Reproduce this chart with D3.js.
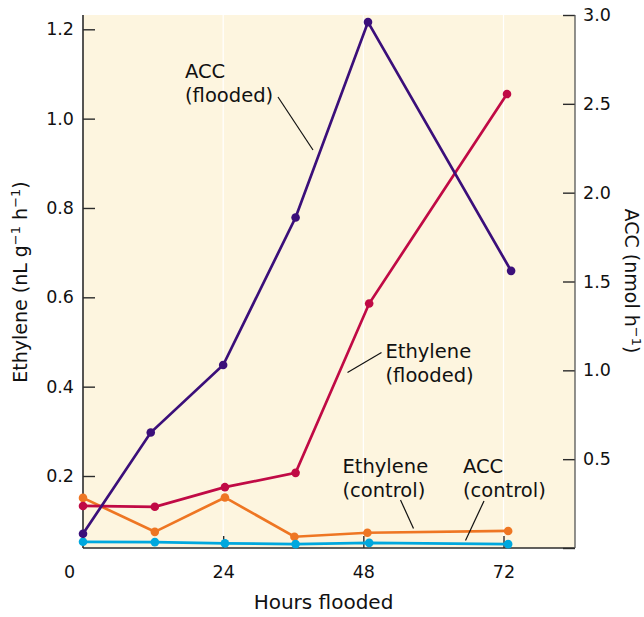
<!DOCTYPE html>
<html lang="en">
<head>
    <meta charset="UTF-8">
    <title>Ethylene and ACC in flooded plants</title>
    <script src="https://d3js.org/d3.v7.min.js"></script>
    <style>
        body {
            margin: 0;
            background: #fff;
            font-family: "DejaVu Sans", sans-serif;
        }
        .tick text {
            font-size: 17.5px;
            fill: #111;
        }
        .note {
            font-size: 19.5px;
            fill: #111;
        }
    </style>
</head>
<body>
    <div id="chart"></div>
    <script>
        // values (hours differ a little per series, as plotted)
        const accFloodHours = [0, 11.6, 24, 36.4, 48.8, 73.3];
        const accFlood = [0.08, 0.65, 1.03, 1.86, 2.96, 1.56];
        const ethFloodHours = [0, 12.3, 24.3, 36.4, 49, 72.6];
        const ethFlood = [0.133, 0.131, 0.175, 0.207, 0.586, 1.055];
        const ethCtrlHours = [0, 12.3, 24.3, 36.2, 48.7, 72.8];
        const ethCtrl = [0.151, 0.075, 0.152, 0.064, 0.073, 0.077];
        const accCtrlHours = [0, 12.3, 24.3, 36.4, 49, 72.8];
        const accCtrl = [0.035, 0.033, 0.026, 0.022, 0.029, 0.022];

        const hourTicks = [0, 24, 48, 72];
        const ethTicks = [0.2, 0.4, 0.6, 0.8, 1.0, 1.2];
        const accTicks = [0, 0.5, 1.0, 1.5, 2.0, 2.5, 3.0];

        const width = 644, height = 617;
        const plotLeft = 83, plotRight = 575, plotTop = 15, plotBottom = 548;

        const svg = d3.select("#chart").append("svg")
            .attr("width", width)
            .attr("height", height);

        const x = d3.scaleLinear().domain([0, 72]).range([83, 503.5]);
        const yEth = d3.scaleLinear().domain([0.2, 1.2]).range([476, 29.3]);
        const yAcc = d3.scaleLinear().domain([0, 3.0]).range([plotBottom, plotTop]);

        // plot background
        svg.append("rect")
            .attr("x", plotLeft).attr("y", plotTop)
            .attr("width", plotRight - plotLeft).attr("height", plotBottom - plotTop)
            .attr("fill", "#fdf5df");

        // white gridlines at the hour ticks
        svg.append("g")
            .selectAll("line")
            .data(hourTicks.slice(1))
            .enter().append("line")
            .attr("x1", d => x(d)).attr("x2", d => x(d))
            .attr("y1", plotTop).attr("y2", plotBottom)
            .attr("stroke", "#fff")
            .attr("stroke-width", 1.2);

        // axes
        const xAxis = svg.append("g")
            .attr("transform", `translate(0,${plotBottom})`)
            .call(d3.axisBottom(x).tickValues(hourTicks).tickSize(-12).tickPadding(17.5));
        xAxis.selectAll(".tick").filter(d => d === 0).select("text").attr("x", -14);
        xAxis.selectAll(".tick").filter(d => d === 0).select("line").remove();

        svg.append("g")
            .attr("transform", `translate(${plotLeft},0)`)
            .call(d3.axisLeft(yEth).tickValues(ethTicks).tickSize(-12).tickPadding(9)
                .tickFormat(d3.format(".1f")));

        svg.append("g")
            .attr("transform", `translate(${plotRight},0)`)
            .call(d3.axisRight(yAcc).tickValues(accTicks).tickSize(-12).tickPadding(8)
                .tickFormat(d => d === 0 ? "" : d3.format(".1f")(d)));

        svg.selectAll(".domain").remove();
        svg.selectAll(".tick line").attr("stroke", "#2b2b2b").attr("stroke-width", 1.4);
        svg.selectAll("g").filter(function () { return this.getAttribute("font-family"); })
            .attr("font-family", null).attr("font-size", null);

        // axis lines
        const frame = svg.append("g").attr("stroke", "#2b2b2b").attr("stroke-width", 1.6);
        frame.append("line").attr("x1", plotLeft).attr("x2", plotLeft).attr("y1", plotTop).attr("y2", plotBottom);
        frame.append("line").attr("x1", plotLeft).attr("x2", plotRight).attr("y1", plotBottom).attr("y2", plotBottom);
        frame.append("line").attr("x1", plotRight).attr("x2", plotRight).attr("y1", plotTop).attr("y2", plotBottom)
            .attr("stroke", "#555").attr("stroke-width", 1.3);

        // series
        const series = [
            { hours: ethCtrlHours, vals: ethCtrl, y: yEth, color: "#ee7623" },
            { hours: accCtrlHours, vals: accCtrl, y: yAcc, color: "#00a8de" },
            { hours: ethFloodHours, vals: ethFlood, y: yEth, color: "#c00a45" },
            { hours: accFloodHours, vals: accFlood, y: yAcc, color: "#3b0f7a" }
        ];

        series.forEach(s => {
            const pts = s.hours.map((h, i) => [x(h), s.y(s.vals[i])]);
            svg.append("path")
                .attr("d", d3.line()(pts))
                .attr("fill", "none")
                .attr("stroke", s.color)
                .attr("stroke-width", 2.7);
            svg.append("g")
                .selectAll("circle")
                .data(pts)
                .enter().append("circle")
                .attr("cx", d => d[0])
                .attr("cy", d => d[1])
                .attr("r", 4.3)
                .attr("fill", s.color);
        });

        // annotations
        const notes = [
            { lines: ["ACC", "(flooded)"], x: 185, y: 77.7, lead: [278, 97, 313, 150] },
            { lines: ["Ethylene", "(flooded)"], x: 385.5, y: 358.3, lead: [381.5, 352.5, 347.5, 372.5] },
            { lines: ["Ethylene", "(control)"], x: 342.5, y: 473.3, lead: [400.5, 500, 413.5, 528.5] },
            { lines: ["ACC", "(control)"], x: 463, y: 473.3, lead: [484, 501, 465.5, 540.5] }
        ];

        notes.forEach(n => {
            const t = svg.append("text").attr("class", "note").attr("x", n.x).attr("y", n.y);
            n.lines.forEach((l, i) => {
                t.append("tspan").attr("x", n.x).attr("dy", i === 0 ? 0 : 24).text(l);
            });
            svg.append("line")
                .attr("x1", n.lead[0]).attr("y1", n.lead[1])
                .attr("x2", n.lead[2]).attr("y2", n.lead[3])
                .attr("stroke", "#111")
                .attr("stroke-width", 1.2);
        });

        // axis titles
        svg.append("text")
            .attr("class", "note")
            .attr("font-size", "20px")
            .attr("text-anchor", "middle")
            .attr("x", 323.5).attr("y", 609)
            .style("font-size", "20px")
            .text("Hours flooded");

        const leftTitle = svg.append("text")
            .attr("class", "note")
            .attr("text-anchor", "middle")
            .style("font-size", "19px")
            .attr("transform", "translate(27,282) rotate(-90)");
        leftTitle.append("tspan").text("Ethylene (nL g");
        leftTitle.append("tspan").attr("font-size", "13px").attr("dy", -7).text("\u22121");
        leftTitle.append("tspan").attr("dy", 7).text(" h");
        leftTitle.append("tspan").attr("font-size", "13px").attr("dy", -7).text("\u22121");
        leftTitle.append("tspan").attr("dy", 7).text(")");

        const rightTitle = svg.append("text")
            .attr("class", "note")
            .attr("text-anchor", "middle")
            .style("font-size", "19px")
            .attr("transform", "translate(625,281) rotate(90)");
        rightTitle.append("tspan").text("ACC (nmol h");
        rightTitle.append("tspan").attr("font-size", "13px").attr("dy", -7).text("\u22121");
        rightTitle.append("tspan").attr("dy", 7).text(")");
    </script>
</body>
</html>
